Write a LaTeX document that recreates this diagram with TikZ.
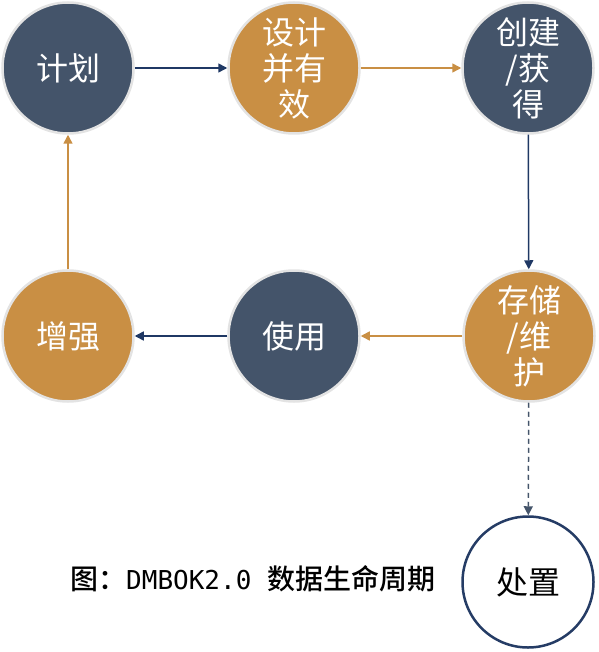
\documentclass[tikz,border=0pt]{standalone}
\usepackage{fontspec}
\newfontfamily\cjk{Noto Sans CJK SC}
\newfontfamily\cjkb{Noto Sans CJK SC Medium}
\newfontfamily\monof{DejaVu Sans Mono}
\usetikzlibrary{arrows.meta}
\definecolor{slate}{HTML}{44546A}
\definecolor{ochre}{HTML}{C98F44}
\definecolor{navy}{HTML}{1F3864}
\definecolor{rimgray}{HTML}{E3E3E3}
\begin{document}
\begin{tikzpicture}[x=1pt,y=-1pt,
  stage/.style={circle, minimum size=131pt, inner sep=0pt, draw=rimgray, line width=2.5pt,
     text=white, font=\cjk\fontsize{32}{36}\selectfont, align=center},
  darkstage/.style={stage, fill=slate},
  lightstage/.style={stage, fill=ochre},
  flowd/.style={draw=navy, line width=1.5pt, -{Triangle[length=9pt,width=9pt]}},
  flowo/.style={draw=ochre, line width=1.5pt, -{Triangle[length=9pt,width=9pt]}},
  flowx/.style={draw=slate, line width=1.5pt, dashed, dash pattern=on 5pt off 4pt, -{Triangle[length=9pt,width=9pt]}}]
\useasboundingbox (0,0) rectangle (598,652);
\node[darkstage]  (plan)   at (68,68)   {计划};
\node[lightstage] (design) at (294,68)  {设计\\并有\\效};
\node[darkstage]  (create) at (528,68)  {创建\\/获\\得};
\node[lightstage] (store)  at (529,336) {存储\\/维\\护};
\node[darkstage]  (use)    at (294,336) {使用};
\node[lightstage] (enh)    at (68,336)  {增强};
\node[circle, minimum size=131pt, inner sep=0pt, draw=navy!85!slate, line width=2.5pt, fill=white,
      font=\cjk\fontsize{32}{36}\selectfont] (disp) at (528,582) {处置};
\draw[flowd] (plan) -- (design);
\draw[flowo] (design) -- (create);
\draw[flowd] (create) -- (store);
\draw[flowo] (store) -- (use);
\draw[flowd] (use) -- (enh);
\draw[flowo] (enh) -- (plan);
\draw[flowx] (store) -- (disp);
\node[anchor=west, inner sep=0pt] (cap) at (70,579)
  {\cjkb\fontsize{28}{32}\selectfont 图：\monof\fontsize{26}{32}\selectfont DMBOK2.0 \cjkb\fontsize{28}{32}\selectfont 数据生命周期};
\end{tikzpicture}
\end{document}
